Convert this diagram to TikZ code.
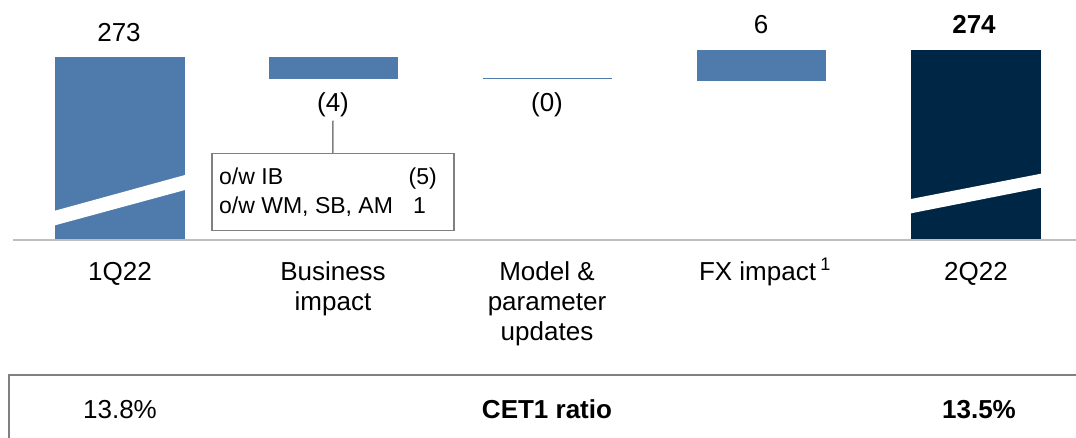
\documentclass[tikz,border=0pt]{standalone}
\usepackage{fontspec}
\setmainfont{Liberation Sans}
\usetikzlibrary{positioning}
\definecolor{barblu}{RGB}{79,123,172}
\definecolor{barnavy}{RGB}{0,38,69}
\definecolor{grigiobordo}{RGB}{128,128,128}
\definecolor{grigioasse}{RGB}{190,190,190}
\tikzset{
	etich/.style={font=\fontsize{26}{30}\selectfont, inner sep=0pt, anchor=base},
	grassetto/.style={font=\fontsize{26}{30}\selectfont\bfseries},
	nota/.style={font=\fontsize{23}{29}\selectfont, inner sep=0pt},
}
\begin{document}
\begin{tikzpicture}[x=1pt, y=-1pt]
			\useasboundingbox (0,0) rectangle (1076,438);
			
			% Barre
			\fill[barblu] (55,57) rectangle (185,240);
			\fill[barblu] (269,57) rectangle (398,79.3);
			\fill[barblu] (483,77.6) rectangle (612,79.3);
			\fill[barblu] (697,50) rectangle (826,80.7);
			\fill[barnavy] (911,50) rectangle (1041,240);
			
			% Interruzioni delle barre
			\fill[white] (55,210.7) -- (185,175) -- (185,190) -- (55,225.3) -- cycle;
			\fill[white] (911,199) -- (1041,173.7) -- (1041,187.7) -- (911,213.3) -- cycle;
			
			% Asse
			\draw[grigioasse, line width=1.5] (13,240) -- (1076,240);
			
			% Valori
			\node[etich] (v1) at (119,41.7) {273};
			\node[etich] (v2) at (333,112) {(4)};
			\node[etich] (v3) at (547,112) {(0)};
			\node[etich] (v4) at (761,33.3) {6};
			\node[etich, grassetto] (v5) at (974,33.3) {274};
			
			% Riquadro di dettaglio
			\node[draw=grigiobordo, line width=1.5, minimum width=242, minimum height=77, inner sep=0pt, anchor=north west] (ow) at (211,153) {};
			\node[nota, anchor=base west] (owib) at (219,185) {o/w IB};
			\node[nota, anchor=base east] (owibv) at (437,185) {(5)};
			\node[nota, anchor=base west] (owwm) at (219,214) {o/w WM, SB, AM};
			\node[nota, anchor=base west] (owwmv) at (413,214) {1};
			\draw[grigiobordo, line width=1.5] ([yshift=-3pt]v2.south) -- (ow.north);
			
			% Categorie (base = ultima riga)
			\foreach \x/\y/\t [count=\i] in {120/280/1Q22, 333/310/{Business\\impact}, 547/340/{Model \&\\parameter\\updates}, 765/280/{FX impact\,\textsuperscript{1}}, 976/280/2Q22}
				\node[etich, align=center] (cat\i) at (\x,\y) {\t};
			
			% Riga CET1
			\draw[grigiobordo, line width=2.5] (9,438) -- (9,375) -- (1076,375);
			\node[etich] (r1) at (120,418) {13.8\%};
			\node[etich, grassetto] (r2) at (547,418) {CET1 ratio};
			\node[etich, grassetto] (r3) at (979,418) {13.5\%};
		\end{tikzpicture}
\end{document}
